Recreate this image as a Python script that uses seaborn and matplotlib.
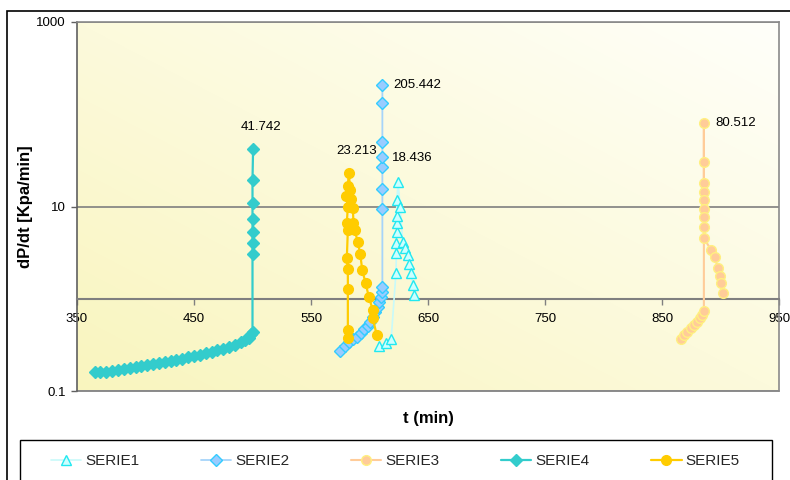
import numpy as np
import matplotlib
matplotlib.use('Agg')
import matplotlib.pyplot as plt
import seaborn as sns
from matplotlib.patches import Rectangle
from matplotlib.ticker import FixedLocator, NullLocator, FuncFormatter

# ---------------- data ----------------
series_names = ['SERIE1', 'SERIE2', 'SERIE3', 'SERIE4', 'SERIE5']

s1_x = [608.5, 614.2, 618.5, 622.6, 623.0, 623.0, 623.2, 623.2, 623.2, 623.4, 624.4,
        626.2, 628.4, 630.5, 632.7, 634.1, 635.6, 637.0, 638.4]
s1_y = [0.308, 0.329, 0.363, 1.89, 3.11, 4.06, 5.26, 6.58, 7.98, 11.75, 18.436,
        9.95, 4.15, 3.52, 2.98, 2.38, 1.89, 1.41, 1.10]

s2_x = [575.0, 578.7, 582.3, 585.8, 589.2, 592.9, 595.7, 598.5, 600.6, 602.8, 605.1,
        607.1, 608.5, 610.0, 610.8, 611.0, 611.0, 611.0, 611.0, 611.0, 611.0, 611.0, 611.0]
s2_y = [0.273, 0.308, 0.342, 0.363, 0.388, 0.422, 0.466, 0.507, 0.564, 0.639, 0.724,
        0.820, 0.929, 1.05, 1.19, 1.35, 9.33, 15.4, 27.0, 34.6, 50.4, 131.4, 205.442]

s3_x = [866.0, 868.8, 871.6, 874.5, 877.3, 880.1, 882.1, 883.8, 885.8, 885.8, 885.8,
        885.8, 885.8, 885.8, 885.8, 885.8, 885.8, 885.8, 892.1, 895.0, 897.8, 899.2,
        900.1, 902.0]
s3_y = [0.366, 0.405, 0.44, 0.479, 0.519, 0.564, 0.614, 0.667, 0.742, 80.512, 30.6,
        17.8, 14.5, 11.7, 9.3, 7.6, 6.0, 4.5, 3.38, 2.86, 2.14, 1.78, 1.47, 1.15]

s4_x = [365, 370, 375, 380, 385, 390, 395, 400, 405, 410, 415, 420, 425, 430, 435, 440,
        445, 450, 455, 460, 465, 470, 475, 480, 485, 490, 494, 497, 499, 500,
        500, 500, 500, 500, 500, 500, 500.5]
s4_y = [0.160, 0.160, 0.162, 0.165, 0.170, 0.174, 0.178, 0.182, 0.186, 0.190, 0.195,
        0.200, 0.205, 0.211, 0.217, 0.224, 0.231, 0.238, 0.246, 0.255, 0.265, 0.275,
        0.287, 0.300, 0.317, 0.337, 0.356, 0.38, 0.41, 0.44,
        3.06, 3.99, 5.33, 7.26, 11.0, 19.4, 41.742]

s5_x = [581.5, 581.5, 581.5, 581.5, 580.6, 581.5, 580.6, 581.5, 580.1, 581.5, 582.3,
        583.5, 584.4, 585.8, 586.3, 587.2, 590.0, 592.1, 593.8, 596.6, 599.4, 602.8,
        602.8, 606.2]
s5_y = [0.372, 0.458, 1.26, 2.08, 2.74, 5.56, 6.67, 9.95, 13.0, 16.7, 23.213,
        15.1, 12.0, 9.55, 6.57, 5.56, 4.15, 3.03, 2.05, 1.49, 1.05, 0.755, 0.614, 0.404]

x_ticks = [350, 450, 550, 650, 750, 850, 950]
y_ticks = [0.1, 10, 1000]

# ---------------- style ----------------
sns.set_theme(style='white')
plt.rcParams['font.family'] = ['Liberation Sans', 'DejaVu Sans']

W, H = 790, 480
fig = plt.figure(figsize=(7.9, 4.8), dpi=100)
fig.patch.set_facecolor('white')
ax = fig.add_axes([77 / W, 1 - 391 / H, 702 / W, 369 / H])
ax.set_yscale('log')
ax.set_autoscale_on(False)
ax.set_xlim(350, 950)
ax.set_ylim(0.1, 1000)
ax.set_facecolor('white')

# gradient background
n = 200
gx, gy = np.meshgrid(np.linspace(0, 1, n), np.linspace(0, 1, n))
t = (gx + gy) / 2.0
c0 = np.array([249, 245, 190]) / 255.0
c1 = np.array([255, 255, 250]) / 255.0
img = c0 + (c1 - c0) * t[..., None]
ax.imshow(img, extent=[0, 1, 0, 1], transform=ax.transAxes, origin='lower',
          aspect='auto', zorder=0, interpolation='bilinear')

styles = [
    dict(x=s1_x, y=s1_y, color='#C8FAFA', marker='^', markersize=7.5,
         markerfacecolor='#CCFFFF', markeredgecolor='#22E8F0', markeredgewidth=1.0, linewidth=1.2),
    dict(x=s2_x, y=s2_y, color='#A6D4FA', marker='D', markersize=6,
         markerfacecolor='#99CCFF', markeredgecolor='#33CCFF', markeredgewidth=1.0, linewidth=1.3),
    dict(x=s3_x, y=s3_y, color='#FFCC99', marker='o', markersize=7,
         markerfacecolor='#FFCC99', markeredgecolor='#FFF080', markeredgewidth=1.0, linewidth=1.5),
    dict(x=s4_x, y=s4_y, color='#33CCCC', marker='D', markersize=6,
         markerfacecolor='#33CCCC', markeredgecolor='#33CCCC', markeredgewidth=1.0, linewidth=1.6),
    dict(x=s5_x, y=s5_y, color='#FFCC00', marker='o', markersize=7,
         markerfacecolor='#FFCC00', markeredgecolor='#FFCC00', markeredgewidth=1.0, linewidth=1.6),
]

handles = []
for i, st in enumerate(styles):
    st = dict(st)
    xs = st.pop('x')
    ys = st.pop('y')
    n_before = len(ax.lines)
    sns.lineplot(x=xs, y=ys, ax=ax, sort=False, estimator=None, legend=False,
                 zorder=3 + i, **st)
    handles.append(ax.lines[n_before])

# data labels
lab_kw = dict(textcoords='offset pixels', fontsize=9.5, color='black', zorder=10)
ax.annotate('41.742', xy=(500.5, 41.742), xytext=(8, 22), ha='center', va='center', **lab_kw)
ax.annotate('23.213', xy=(582.3, 23.213), xytext=(8, 22), ha='center', va='center', **lab_kw)
ax.annotate('205.442', xy=(611.0, 205.442), xytext=(11, 0), ha='left', va='center', **lab_kw)
ax.annotate('18.436', xy=(624.4, 18.436), xytext=(14, 24), ha='center', va='center', **lab_kw)
ax.annotate('80.512', xy=(885.8, 80.512), xytext=(11, 0), ha='left', va='center', **lab_kw)

# axes / ticks
ax.xaxis.set_major_locator(FixedLocator(x_ticks))
ax.yaxis.set_major_locator(FixedLocator(y_ticks))
ax.yaxis.set_minor_locator(NullLocator())
ax.xaxis.set_minor_locator(NullLocator())
ax.yaxis.set_major_formatter(FuncFormatter(lambda v, p: f'{v:g}'))
ax.xaxis.set_major_formatter(FuncFormatter(lambda v, p: f'{v:g}'))
ax.tick_params(axis='x', direction='out', length=4, width=1, color='#808080',
               labelsize=9.5, labelcolor='black', pad=6, bottom=True)
ax.tick_params(axis='y', direction='out', length=4, width=1, color='#606060',
               labelsize=9.5, labelcolor='black', pad=4, left=True)

ax.grid(axis='y', which='major', color='#7F7F7F', linewidth=1.2, zorder=1)
ax.grid(axis='x', visible=False)
ax.set_axisbelow(True)

ax.spines['bottom'].set_position(('data', 1))
ax.spines['bottom'].set_color('#7F7F7F')
ax.spines['bottom'].set_linewidth(1.5)
ax.spines['left'].set_color('#606060')
ax.spines['left'].set_linewidth(1.2)
for s in ['top', 'right']:
    ax.spines[s].set_color('#8A8A8A')
    ax.spines[s].set_linewidth(1.2)
ax.plot([0, 1], [0, 0], transform=ax.transAxes, color='#8A8A8A', lw=1.4, clip_on=False, zorder=2)

ax.set_xlabel('t (min)', fontsize=12, fontweight='bold', color='black')
ax.xaxis.set_label_coords(0.5, -0.055)
ax.set_ylabel('dP/dt [Kpa/min]', fontsize=12, fontweight='bold', color='black')
ax.yaxis.set_label_coords(-0.063, 0.5)

# outer chart border (cut by image edges)
fig.add_artist(Rectangle((7 / W, -0.1), 1.2, (1 - 11 / H) + 0.1, transform=fig.transFigure,
                         fill=False, edgecolor='black', linewidth=1.2))
# legend frame (cut by bottom edge)
fig.add_artist(Rectangle((20 / W, -0.1), 752 / W, (1 - 440 / H) + 0.1, transform=fig.transFigure,
                         facecolor='white', edgecolor='black', linewidth=1.0, zorder=5))

leg = fig.legend(handles, series_names, loc='center left',
                 bbox_to_anchor=(50.7 / W, 1 - 461 / H), ncol=5, frameon=False,
                 fontsize=11, handlelength=2.0, handletextpad=0.28, columnspacing=4.0,
                 borderpad=0, borderaxespad=0, numpoints=1)
leg.set_zorder(6)

fig.savefig('out.png', dpi=100)
